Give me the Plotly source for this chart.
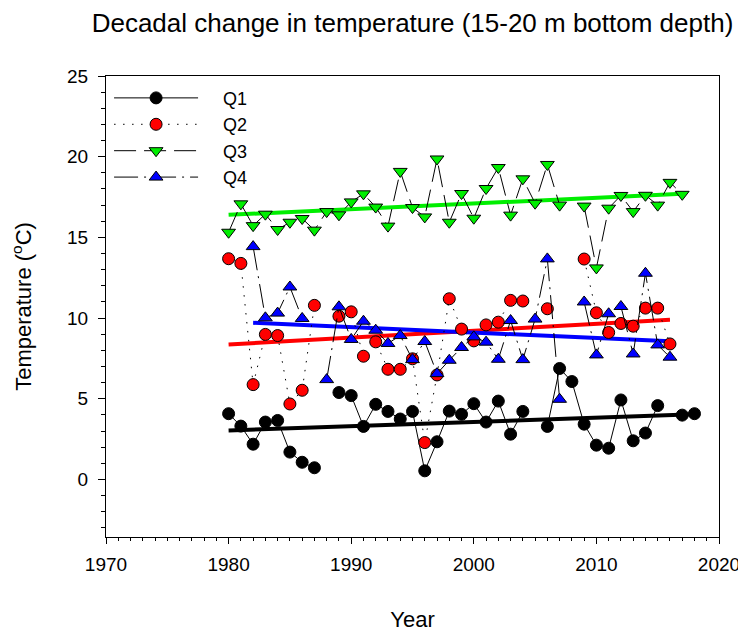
import plotly.graph_objects as go

# yearly bottom temperatures (15-20 m), None = no survey that year
years = list(range(1980, 2019))

q1 = [4.08, 3.31, 2.19, 3.56, 3.66, 1.70, 1.07, 0.73, None, 5.39,
      5.20, 3.29, 4.66, 4.22, 3.75, 4.22, 0.54, 2.34, 4.24, 4.04,
      4.70, 3.56, 4.86, 2.81, 4.22, None, 3.29, 6.88, 6.07, 3.43,
      2.13, 1.94, 4.93, 2.40, 2.88, 4.58, None, 3.99, 4.08]

q2 = [13.68, 13.39, 5.88, 8.99, 8.92, 4.68, 5.53, 10.79, None, 10.12,
      10.39, 7.64, 8.53, 6.83, 6.83, 7.48, 2.29, 6.48, 11.20, 9.32,
      8.59, 9.58, 9.75, 11.10, 11.06, None, 10.58, None, None, 13.66,
      10.33, 9.11, 9.67, 9.50, 10.62, 10.62, 8.40, None, None]

q3 = [15.32, 17.08, 15.73, 16.44, 15.49, 15.94, 16.17, 15.45, 16.60, 16.40,
      17.20, 17.70, 16.88, 15.70, 19.09, 16.85, 16.27, 19.86, 15.94, 17.72,
      16.19, 18.03, 19.33, 16.38, 18.63, 17.12, 19.52, 17.00, None, 16.94,
      13.11, 16.81, 17.60, 16.60, 17.61, 17.00, 18.41, 17.67, None]

q4 = [None, None, 14.43, 10.02, 10.31, 11.93, 9.98, None, 6.19, 10.70,
      8.68, 9.81, 9.25, 8.43, 8.92, 7.43, 8.55, 6.56, 7.39, 8.18,
      8.84, 8.51, 7.45, 9.85, 7.43, 9.94, 13.67, 4.97, None, 11.00,
      7.72, 10.27, 10.72, 7.78, 12.78, 8.34, 7.58, None, None]

# linear trend end points
trend_q1_x = [1980, 2018]
trend_q1_y = [3.04, 4.04]
trend_q2_x = [1980, 2016]
trend_q2_y = [8.37, 9.90]
trend_q3_x = [1980, 2017]
trend_q3_y = [16.40, 17.70]
trend_q4_x = [1982, 2016]
trend_q4_y = [9.71, 8.57]

FONT = "Liberation Sans, Arial, sans-serif"
PAD = "\u00a0" * 4  # pushes legend text away from the symbol line

fig = go.Figure()

# trend lines go underneath the symbols
for tx, ty, col in [(trend_q1_x, trend_q1_y, "black"),
                    (trend_q2_x, trend_q2_y, "red"),
                    (trend_q3_x, trend_q3_y, "#00ee00"),
                    (trend_q4_x, trend_q4_y, "blue")]:
    fig.add_trace(go.Scatter(x=tx, y=ty, mode="lines", showlegend=False,
                             hoverinfo="skip", line=dict(color=col, width=4)))

series = [
    ("Q1", q1, "black", "circle", "solid"),
    ("Q2", q2, "red", "circle", "1.5px,7.5px"),
    ("Q3", q3, "#00ee00", "triangle-down", "22px,8px"),
    ("Q4", q4, "blue", "triangle-up", "24px,6px,2px,6px"),
]
for name, vals, col, sym, dash in series:
    fig.add_trace(go.Scatter(
        x=years, y=vals, name=PAD + name, mode="lines+markers",
        line=dict(color="black", width=1, dash=dash),
        marker=dict(symbol=sym, size=12, color=col,
                    line=dict(color="black", width=1))))

# the page body adds an 8 px offset, so margins are shifted by that much
fig.update_layout(
    width=746, height=630,
    margin=dict(l=98, r=35, t=68, b=101),
    paper_bgcolor="white", plot_bgcolor="white",
    font=dict(family=FONT, size=19, color="black"),
    title=dict(text="Decadal change in temperature (15-20 m bottom depth)",
               x=0.5, xref="paper", xanchor="center",
               y=0.976, yref="container", yanchor="middle",
               font=dict(size=26)),
    legend=dict(x=0.005, y=0.992, xanchor="left", yanchor="top",
                bgcolor="rgba(0,0,0,0)", font=dict(size=18),
                itemwidth=84),
    xaxis=dict(title=dict(text="Year", font=dict(size=22), standoff=37),
               range=[1970, 2020], tick0=1970, dtick=10, automargin=False,
               showgrid=False, zeroline=False,
               showline=True, linecolor="black", linewidth=1, mirror=True,
               ticks="outside", ticklen=6, tickcolor="black",
               ticklabelstandoff=4,
               minor=dict(dtick=1, ticks="outside", ticklen=3, tickcolor="black")),
    yaxis=dict(title=dict(text="Temperature (<sup>o</sup>C)", font=dict(size=22), standoff=30),
               range=[-3.56, 25], tick0=0, dtick=5, automargin=False,
               showgrid=False, zeroline=False,
               showline=True, linecolor="black", linewidth=1, mirror=True,
               ticks="outside", ticklen=7, tickcolor="black",
               ticklabelstandoff=6,
               minor=dict(dtick=1, ticks="outside", ticklen=4, tickcolor="black")),
)

fig.write_html("out.html")
